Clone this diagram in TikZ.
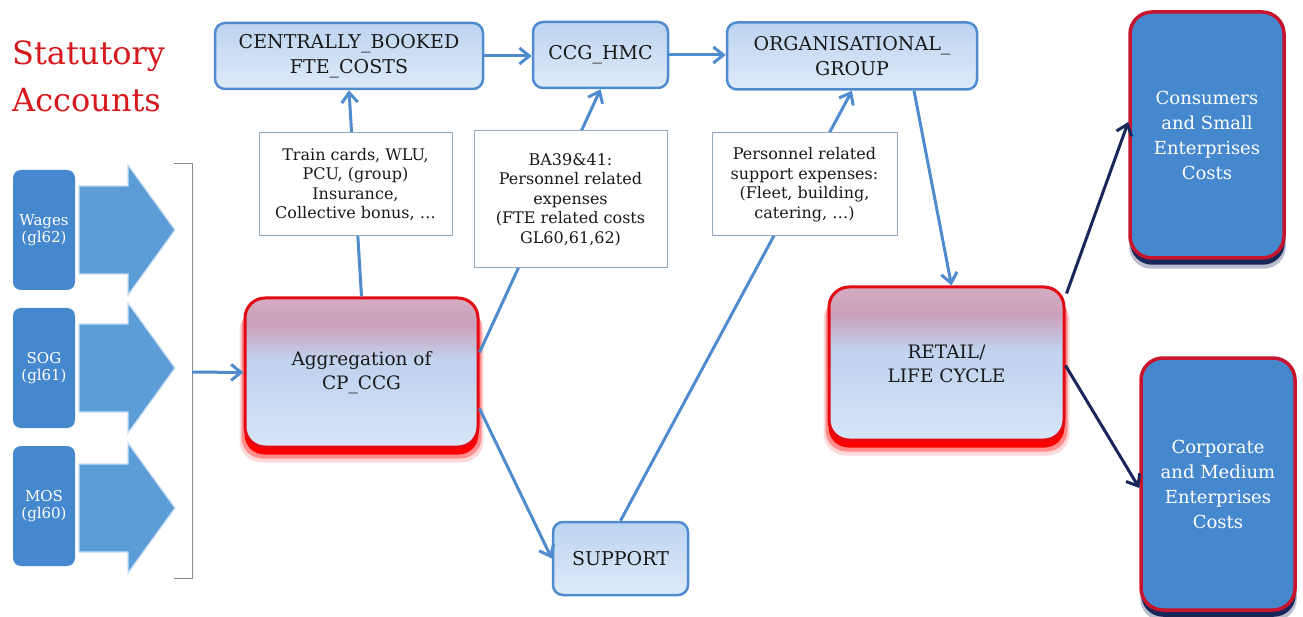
\documentclass[tikz,border=0pt]{standalone}
\usepackage{fontspec}
\setmainfont{DejaVu Serif}
\usetikzlibrary{arrows.meta,calc,backgrounds}
\definecolor{lnblue}{RGB}{80,140,205}
\definecolor{tbtop}{RGB}{188,212,240}
\definecolor{tbbot}{RGB}{222,234,249}
\definecolor{boxblue}{RGB}{70,136,205}
\definecolor{arrblue}{RGB}{92,157,215}
\definecolor{arredge}{RGB}{200,222,242}
\definecolor{redline}{RGB}{228,10,20}
\definecolor{navy}{RGB}{25,38,90}
\definecolor{statred}{RGB}{215,25,30}
\definecolor{mauve}{RGB}{204,160,186}
\definecolor{mauvetop}{RGB}{212,172,194}
\definecolor{aggmid}{RGB}{192,212,240}
\definecolor{aggbot}{RGB}{216,229,248}
\definecolor{txgray}{RGB}{150,168,190}
\definecolor{cornred}{RGB}{200,20,45}
\definecolor{brkgray}{RGB}{140,140,140}
\definecolor{txtblack}{RGB}{25,25,25}
\pgfdeclareverticalshading{aggshade}{100bp}{color(0bp)=(aggbot); color(25bp)=(aggbot); color(50bp)=(aggmid); color(54bp)=(aggmid); color(66bp)=(mauve); color(75bp)=(mauvetop); color(100bp)=(mauvetop)}
\tikzset{
 topbox/.style={draw=lnblue, line width=2.5pt, rounded corners=10pt, top color=tbtop, bottom color=tbbot, font=\fontsize{19}{24.5}\selectfont, align=center, inner sep=0pt, text=txtblack},
 txbox/.style={draw=txgray, line width=1pt, fill=white, font=\fontsize{16}{19.5}\selectfont, align=center, inner sep=0pt, text=txtblack},
 redbox/.style={draw=redline, line width=3pt, rounded corners=20pt, shade, shading=aggshade, font=\fontsize{18.5}{24}\selectfont, align=center, inner sep=0pt, text=txtblack},
 bluebox/.style={draw=cornred, line width=3.5pt, rounded corners=22pt, fill=boxblue, text=white, font=\fontsize{18}{25}\selectfont, align=center, inner sep=0pt, minimum width=154pt},
 glbox/.style={fill=boxblue, rounded corners=8pt, text=white, font=\fontsize{15}{17}\selectfont, align=center, inner sep=0pt, minimum width=62pt, minimum height=120pt},
 conn/.style={draw=lnblue, line width=3pt, -{Straight Barb[length=10pt,width=16pt]}},
 darkconn/.style={draw=navy, line width=3pt, -{Straight Barb[length=10pt,width=16pt]}},
}
\begin{document}
\begin{tikzpicture}[x=1pt,y=-1pt]
\useasboundingbox (0,0) rectangle (1303,617);

% title
\node[anchor=north west, text=statred, font=\fontsize{32}{47}\selectfont, align=left, inner sep=0pt] (title) at (12,41) {Statutory\\Accounts};

% left GL boxes
\node[glbox] (wages) at (44,230) {Wages\\(gl62)};
\node[glbox] (sog) at (44,368) {SOG\\(gl61)};
\node[glbox] (mos) at (44,506) {MOS\\(gl60)};
\foreach \c in {230,368,508}{
  \filldraw[fill=arrblue, draw=arredge, line width=1.2pt] (79,\c-44) -- (128,\c-44) -- (128,\c-65) -- (175,\c) -- (128,\c+65) -- (128,\c+44) -- (79,\c+44) -- cycle;
}
\draw[brkgray, line width=1pt] (174,164) -- (192,164) -- (192,578) -- (174,578);
\coordinate (brk) at (192,372);

% main nodes
\node[topbox, minimum width=268pt, minimum height=66pt] (cb) at (349,56) {CENTRALLY\_BOOKED\\FTE\_COSTS};
\node[topbox, minimum width=135pt, minimum height=66pt] (hmc) at (600.5,55) {CCG\_HMC};
\node[topbox, minimum width=250pt, minimum height=67pt] (org) at (852,56) {ORGANISATIONAL\_\\GROUP};
\node[redbox, minimum width=233pt, minimum height=149pt] (agg) at (361.5,372.5) {Aggregation of\\CP\_CCG};
\node[topbox, minimum width=135pt, minimum height=73pt] (support) at (620.5,558.5) {SUPPORT};
\node[redbox, minimum width=235pt, minimum height=153pt] (retail) at (946.5,363.5) {RETAIL/\\LIFE CYCLE};
\node[bluebox, minimum height=246pt] (cons) at (1207,135) {Consumers\\and Small\\Enterprises\\Costs};
\node[bluebox, minimum height=252pt] (corp) at (1218,484) {Corporate\\and Medium\\Enterprises\\Costs};

% shadows
\begin{pgfonlayer}{background}
\fill[white] (0,0) rectangle (1303,617);
\foreach \n in {agg,retail}{
  \fill[red, opacity=0.15, rounded corners=22pt] ($(\n.north west)+(-4,12)$) rectangle ($(\n.south east)+(4,14)$);
  \fill[red, opacity=0.35, rounded corners=21pt] ($(\n.north west)+(-2,10)$) rectangle ($(\n.south east)+(2,10)$);
  \fill[red, rounded corners=20pt] ($(\n.north west)+(1,6)$) rectangle ($(\n.south east)+(-1,6)$);
}
\foreach \n in {cons,corp}{
  \fill[navy, opacity=0.3, rounded corners=22pt] ($(\n.north west)+(1,8)$) rectangle ($(\n.south east)+(0,9)$);
  \fill[navy, rounded corners=22pt] ($(\n.north west)+(2,4)$) rectangle ($(\n.south east)+(-1,5)$);
}
\end{pgfonlayer}

% connectors
\draw[conn] (brk) -- (agg.west);
\draw[conn] (cb.east) -- (cb.east -| hmc.west);
\draw[conn] (hmc.east) -- (hmc.east -| org.west);
\draw[conn] (agg.north) -- (cb.south);
\draw[conn] ($(agg.east)+(0,-20)$) -- (hmc.south);
\draw[conn] ($(agg.east)+(0,36)$) -- (support.west);
\draw[conn] (support.north) -- (org.south);
\draw[conn] ($(org.south)+(62,0)$) -- ($(retail.north)+(5,0)$);
\draw[darkconn] ($(retail.north east)+(1,8)$) -- ($(cons.west)+(0,-13)$);
\draw[darkconn] ($(retail.east)+(0,2)$) -- ($(corp.west)+(0,4)$);

% text boxes on top of connectors
\node[txbox, minimum width=193pt, minimum height=103pt] (tx1) at (355.5,184.5) {Train cards, WLU,\\PCU, (group)\\Insurance,\\Collective bonus, \ldots};
\node[txbox, minimum width=193pt, minimum height=137pt] (tx2) at (570.5,199.5) {BA39\&41:\\Personnel related\\expenses\\(FTE related costs\\GL60,61,62)};
\node[txbox, minimum width=185pt, minimum height=103pt] (tx3) at (804.5,184.5) {Personnel related\\support expenses:\\(Fleet, building,\\catering, \ldots)};
\end{tikzpicture}
\end{document}
